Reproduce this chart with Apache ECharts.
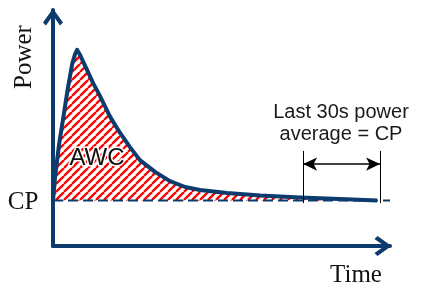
<!DOCTYPE html>
<html><head><meta charset="utf-8">
<script src="https://cdn.jsdelivr.net/npm/echarts@6/dist/echarts.min.js"></script>
<style>html,body{margin:0;padding:0;background:#fff}#c{width:424px;height:290px}</style>
</head><body><div id="c"></div>
<script>
// ---- data ----
const CP = 19.3;
const timeX = [0, 0.6, 1.8, 3.0, 4.5, 5.8, 6.7, 7.3, 8.2, 10.3, 12.1, 14.2, 17.3, 20.3, 23.3, 26.3, 30.9, 35.4, 40.0, 44.5, 52.7, 62.7, 74.8, 86.9, 98.1];
const powerY = [19.3, 28.8, 42.8, 53.4, 66.9, 77.1, 81.4, 83.1, 80.9, 74.6, 69.1, 63.6, 54.7, 47.9, 41.9, 36.4, 31.4, 27.5, 25.0, 23.7, 22.5, 21.4, 20.6, 19.9, 19.3];
const windowStart = 75.7;
const windowEnd = 99.0;
const windowLow = 18.2;
const windowHigh = 40.3;
const arrowLevel = 34.7;
const xMax = 102;
const yMax = 100;
const labels = { power: 'Power', time: 'Time', cp: 'CP', awc: 'AWC', note: 'Last 30s power\naverage = CP' };

const navy = '#0c3b6d';
function hatch() {
  const p = 8, c = document.createElement('canvas');
  c.width = p; c.height = p;
  const ctx = c.getContext('2d');
  ctx.fillStyle = '#fff'; ctx.fillRect(0, 0, p, p);
  ctx.strokeStyle = '#ff0000'; ctx.lineWidth = 2.3;
  for (const k of [-p, 0, p]) { ctx.beginPath(); ctx.moveTo(k, p); ctx.lineTo(k + p, 0); ctx.stroke(); }
  return c;
}
const chevron = 'path://M10,0 L20,14 L17,17 L10,7 L3,17 L0,14 Z';
const axisCommon = {
  axisLine: { show: true, onZero: true, symbol: ['none', chevron], symbolSize: [20, 18], symbolOffset: [0, -7], lineStyle: { color: navy, width: 4 } },
  axisTick: { show: false }, axisLabel: { show: false }, splitLine: { show: false }
};
const chart = echarts.init(document.getElementById('c'), null, { renderer: 'canvas' });
chart.setOption({
  animation: false,
  grid: { left: 53, right: 34, top: 10, bottom: 44 },
  xAxis: Object.assign({ type: 'value', min: 0, max: xMax }, axisCommon),
  yAxis: Object.assign({ type: 'value', min: 0, max: yMax }, axisCommon),
  series: [
    {
      type: 'line', symbol: 'none', z: 2,
      data: timeX.map((x, i) => [x, powerY[i]]),
      lineStyle: { width: 0, opacity: 0 },
      areaStyle: { color: { image: hatch(), repeat: 'repeat' }, opacity: 1, origin: CP }
    },
    {
      type: 'line', symbol: 'none', z: 3,
      data: [[0, CP], [xMax, CP]],
      lineStyle: { color: navy, width: 2, type: [10, 5] },
      markLine: {
        silent: true, symbol: 'none', label: { show: false },
        lineStyle: { color: '#000', width: 1, type: 'solid' },
        data: [
          [{ coord: [windowStart, windowLow] }, { coord: [windowStart, windowHigh] }],
          [{ coord: [windowEnd, windowLow] }, { coord: [windowEnd, windowHigh] }]
        ]
      }
    },
    {
      type: 'line', symbol: 'none', z: 4,
      data: timeX.map((x, i) => [x, powerY[i]]),
      lineStyle: { color: navy, width: 4, join: 'round' }
    },
    {
      type: 'line', symbol: 'none', data: [], z: 5,
      markLine: {
        silent: true, symbol: ['arrow', 'arrow'], symbolSize: [10, 14], label: { show: false },
        lineStyle: { color: '#000', width: 1.5, type: 'solid' },
        data: [[{ coord: [windowStart, arrowLevel] }, { coord: [windowEnd, arrowLevel] }]]
      }
    }
  ],
  graphic: [
    { type: 'text', x: 24, y: 57, rotation: Math.PI / 2, style: { text: labels.power, font: '25px "Liberation Serif"', fill: '#111', align: 'center', verticalAlign: 'middle' } },
    { type: 'text', x: 23, y: 202, style: { text: labels.cp, font: '25px "Liberation Serif"', fill: '#111', align: 'center', verticalAlign: 'middle' } },
    { type: 'text', x: 356, y: 275, style: { text: labels.time, font: '25px "Liberation Serif"', fill: '#111', align: 'center', verticalAlign: 'middle' } },
    { type: 'text', x: 97, y: 158, z: 10, style: { text: labels.awc, font: '24px "Liberation Sans"', fill: '#111', align: 'center', verticalAlign: 'middle', stroke: '#fff', lineWidth: 3, shadowColor: '#fff', shadowBlur: 8 } },
    { type: 'text', x: 341, y: 101, style: { text: labels.note, font: '20px "Liberation Sans"', fill: '#1a1a1a', align: 'center', verticalAlign: 'top', lineHeight: 22 } }
  ]
});
</script></body></html>
